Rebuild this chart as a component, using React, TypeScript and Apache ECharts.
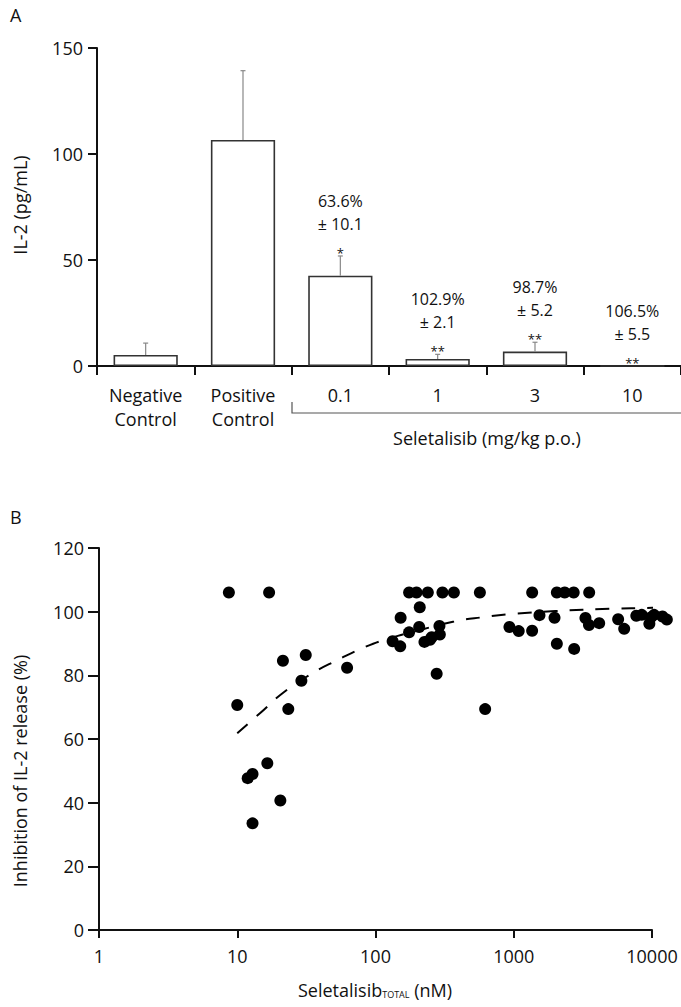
import React, { useEffect, useRef } from "react";
import * as echarts from "echarts";

// ---- Panel A data ----
const categories = ["Negative\nControl", "Positive\nControl", "0.1", "1", "3", "10"];
const il2Means = [5.2, 106.6, 42.6, 3.3, 6.8, 0];
const il2Err = [5.6, 32.7, 9.3, 2.2, 4.4, 0];
const pctLabels = ["", "", "63.6%", "102.9%", "98.7%", "106.5%"];
const sdLabels = ["", "", "± 10.1", "± 2.1", "± 5.2", "± 5.5"];
const starLabels = ["", "", "*", "**", "**", "**"];
const yTicksA = [0, 50, 100, 150];

// ---- Panel B data ----
const scatterX = [
  8.7, 17.0, 10.0, 11.9, 12.9, 12.9, 16.5, 20.5, 21.4, 23.4, 29.1, 31.3, 62.3,
  133, 151, 152, 175, 175, 198, 239, 305, 369, 569, 209, 207, 226, 248, 255, 290, 292, 277, 621,
  931, 1086, 1358, 1359, 1535, 1972, 2050, 2050, 2336, 2714, 2735, 3300, 3513, 3500, 4150,
  5690, 6293, 7700, 8430, 9800, 9570, 10350, 11900, 12800,
];
const scatterY = [
  106, 106, 70.7, 47.7, 49.0, 33.5, 52.4, 40.7, 84.6, 69.4, 78.3, 86.4, 82.4,
  90.7, 89.1, 98.1, 93.5, 106, 106, 106, 106, 106, 106, 101.4, 95.2, 90.5, 91.2, 92.0, 95.5, 92.8, 80.5, 69.4,
  95.2, 93.9, 94.0, 106, 98.9, 98.1, 106, 89.9, 106, 106, 88.3, 98.0, 106, 95.8, 96.4,
  97.6, 94.6, 98.7, 99.0, 98.2, 96.2, 99.0, 98.5, 97.5,
];
const curveX = [10, 14.6, 21.6, 34.5, 52.5, 84, 128, 200, 370, 610, 1000, 2000, 5000, 10000, 12800];
const curveY = [61.8, 68.1, 74.6, 80.5, 84.7, 88.9, 91.7, 94.0, 96.9, 98.3, 99.3, 100.2, 100.9, 101.2, 101.3];

const FONT = "Open Sans";
const INK = "#111";

export default function App() {
  const ref = useRef<HTMLDivElement>(null);

  useEffect(() => {
    document.body.style.margin = "0";
    const chart = echarts.init(ref.current!, null, { renderer: "svg" });

    const option: any = {
      animation: false,
      backgroundColor: "#fff",
      textStyle: { fontFamily: FONT, color: INK },
      grid: [
        { left: 97, top: 48, width: 584, height: 318 },
        { left: 99, top: 548, width: 553, height: 382 },
      ],
      xAxis: [
        {
          type: "category",
          gridIndex: 0,
          data: categories,
          axisLine: { lineStyle: { color: INK, width: 2 } },
          axisTick: { show: true, length: 9, lineStyle: { color: INK, width: 2 } },
          axisLabel: { fontFamily: FONT, fontSize: 18, color: INK, lineHeight: 24, margin: 17 },
        },
        {
          type: "log",
          logBase: 10,
          gridIndex: 1,
          min: 1,
          max: 10000,
          axisLine: { lineStyle: { color: INK, width: 2 } },
          axisTick: { show: true, length: 8, lineStyle: { color: INK, width: 2 } },
          minorTick: { show: false },
          splitLine: { show: false },
          axisLabel: {
            fontFamily: FONT,
            fontSize: 18,
            color: INK,
            margin: 17,
            formatter: (v: number) => String(Math.round(v)),
          },
        },
      ],
      yAxis: [
        {
          type: "value",
          gridIndex: 0,
          min: yTicksA[0],
          max: yTicksA[yTicksA.length - 1],
          interval: 50,
          axisLine: { show: true, lineStyle: { color: INK, width: 2 } },
          axisTick: { show: true, length: 9, lineStyle: { color: INK, width: 2 } },
          splitLine: { show: false },
          axisLabel: { fontFamily: FONT, fontSize: 18, color: INK, margin: 14 },
        },
        {
          type: "value",
          gridIndex: 1,
          min: 0,
          max: 120,
          interval: 20,
          axisLine: { show: true, lineStyle: { color: INK, width: 2 } },
          axisTick: { show: true, length: 11, lineStyle: { color: INK, width: 2 } },
          splitLine: { show: false },
          axisLabel: { fontFamily: FONT, fontSize: 18, color: INK, margin: 15 },
        },
      ],
      series: [
        {
          type: "bar",
          xAxisIndex: 0,
          yAxisIndex: 0,
          data: il2Means,
          barWidth: "66%",
          itemStyle: { color: "#fff", borderColor: "#333", borderWidth: 1.6 },
          z: 2,
        },
        {
          type: "custom",
          xAxisIndex: 0,
          yAxisIndex: 0,
          data: il2Means.map((m, i) => [i, m, il2Err[i]]),
          encode: { x: 0, y: 1 },
          z: 3,
          clip: false,
          renderItem: (params: any, api: any) => {
            const i = api.value(0);
            const mean = api.value(1);
            const err = api.value(2);
            const base = api.coord([i, mean]);
            const top = api.coord([i, mean + err]);
            const idx = params.dataIndex;
            const children: any[] = [];
            if (err > 0) {
              children.push({
                type: "line",
                shape: { x1: base[0], y1: base[1], x2: top[0], y2: top[1] },
                style: { stroke: "#888", lineWidth: 1.2 },
              });
              children.push({
                type: "line",
                shape: { x1: top[0] - 2.5, y1: top[1], x2: top[0] + 2.5, y2: top[1] },
                style: { stroke: "#888", lineWidth: 1.2 },
              });
            }
            if (starLabels[idx]) {
              children.push({
                type: "text",
                x: top[0],
                y: top[1] - 3,
                style: {
                  text: starLabels[idx],
                  fontFamily: FONT,
                  fontSize: 13,
                  fill: INK,
                  align: "center",
                  verticalAlign: "middle",
                },
              });
            }
            if (pctLabels[idx]) {
              children.push({
                type: "text",
                x: top[0],
                y: top[1] - 55,
                style: {
                  text: pctLabels[idx],
                  fontFamily: FONT,
                  fontSize: 16,
                  fill: INK,
                  align: "center",
                  verticalAlign: "middle",
                },
              });
              children.push({
                type: "text",
                x: top[0],
                y: top[1] - 32,
                style: {
                  text: sdLabels[idx],
                  fontFamily: FONT,
                  fontSize: 16,
                  fill: INK,
                  align: "center",
                  verticalAlign: "middle",
                },
              });
            }
            return { type: "group", children };
          },
        },
        {
          type: "scatter",
          xAxisIndex: 1,
          yAxisIndex: 1,
          data: scatterX.map((x, i) => [x, scatterY[i]]),
          symbol: "circle",
          symbolSize: 12,
          itemStyle: { color: "#000", opacity: 1 },
          clip: false,
          z: 3,
        },
        {
          type: "line",
          xAxisIndex: 1,
          yAxisIndex: 1,
          data: curveX.map((x, i) => [x, curveY[i]]),
          smooth: true,
          showSymbol: false,
          symbol: "none",
          clip: false,
          lineStyle: { color: "#000", width: 2, type: [14, 12] },
          z: 2,
        },
      ],
      graphic: [
        {
          type: "text",
          left: 10,
          top: 6,
          style: { text: "A", fontFamily: FONT, fontSize: 18, fill: INK },
        },
        {
          type: "text",
          left: 10,
          top: 508,
          style: { text: "B", fontFamily: FONT, fontSize: 18, fill: INK },
        },
        {
          type: "text",
          x: 20,
          y: 205,
          rotation: Math.PI / 2,
          style: {
            text: "IL-2 (pg/mL)",
            fontFamily: FONT,
            fontSize: 18,
            fill: INK,
            align: "center",
            verticalAlign: "middle",
          },
        },
        {
          type: "polyline",
          shape: { points: [[292, 402], [292, 413], [682, 413]] },
          style: { stroke: "#555", lineWidth: 1.2, fill: "none" },
        },
        {
          type: "text",
          x: 487,
          y: 438,
          style: {
            text: "Seletalisib (mg/kg p.o.)",
            fontFamily: FONT,
            fontSize: 18,
            fill: INK,
            align: "center",
            verticalAlign: "middle",
          },
        },
        {
          type: "text",
          x: 20,
          y: 771,
          rotation: Math.PI / 2,
          style: {
            text: "Inhibition of IL-2 release (%)",
            fontFamily: FONT,
            fontSize: 18,
            fill: INK,
            align: "center",
            verticalAlign: "middle",
          },
        },
        {
          type: "text",
          x: 375,
          y: 987,
          style: {
            text: "{a|Seletalisib}{b|TOTAL}{a| (nM)}",
            fontFamily: FONT,
            fill: INK,
            align: "center",
            verticalAlign: "middle",
            rich: {
              a: { fontFamily: FONT, fontSize: 18, lineHeight: 24, fill: INK, verticalAlign: "bottom" },
              b: { fontFamily: FONT, fontSize: 9, lineHeight: 8, fill: INK, verticalAlign: "bottom" },
            },
          },
        },
      ],
    };

    chart.setOption(option);
    return () => chart.dispose();
  }, []);

  return <div ref={ref} style={{ width: 681, height: 1007 }} />;
}
